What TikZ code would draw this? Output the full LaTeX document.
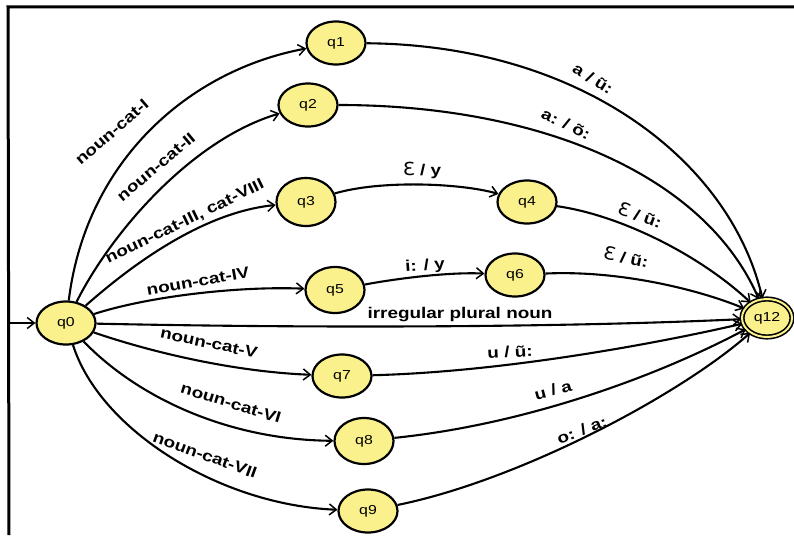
\documentclass[tikz,border=0pt]{standalone}
\usepackage{fontspec}
\usetikzlibrary{shapes.geometric,arrows.meta}
\newfontfamily\lblfamily[FakeStretch=1.22]{Liberation Sans}
\newfontfamily\epsfamily[FakeStretch=1.1]{DejaVu Sans}
\definecolor{stfill}{RGB}{250,241,140}
\newcommand{\lfont}{\lblfamily\bfseries\fontsize{15.5}{17}\selectfont}
\newcommand{\nfont}{\lblfamily\fontsize{13}{15}\selectfont}
\newcommand{\eps}{{\epsfamily\mdseries\fontsize{18}{18}\selectfont Ɛ}}
\tikzset{
  st/.style={ellipse, draw, line width=2.2pt, fill=stfill, minimum width=59pt, minimum height=43pt, inner sep=0pt, font=\nfont},
  fin/.style={st, minimum width=50pt, minimum height=38pt, double=stfill, double distance=2pt, line width=1.6pt},
  tr/.style={line width=2.1pt, -{Straight Barb[length=7pt,width=11pt,line width=1.5pt]}},
  lb/.style={font=\lfont, inner sep=1pt},
  frame/.style={line width=3pt}
}
\begin{document}
\begin{tikzpicture}[x=1pt,y=-1pt]
\useasboundingbox (0,0) rectangle (794,535);
% frame
\coordinate (fa) at (8,7);
\coordinate (fb) at (794,7);
\coordinate (fc) at (9,535);
\draw[frame] (fb) -- (fa) -- (fc);
% states
\node[st] (q0) at (66,323) {q0};
\node[st] (q1) at (336,43) {q1};
\node[st] (q2) at (308,105) {q2};
\node[st, minimum height=48pt] (q3) at (306,202) {q3};
\node[st] (q4) at (527,202) {q4};
\node[st, minimum height=46pt] (q5) at (335,290) {q5};
\node[st] (q6) at (515,275) {q6};
\node[st] (q7) at (342,376) {q7};
\node[st, minimum height=46pt] (q8) at (364,441) {q8};
\node[st] (q9) at (368,511) {q9};
\node[fin] (q12) at (767,318) {q12};
% initial
\coordinate (init) at (10,323);
\draw[tr] (init) -- (q0);
% from q0
\draw[tr] (q0) .. controls (86,160) and (190,70) .. (q1);
\draw[tr] (q0) .. controls (110,235) and (190,140) .. (q2);
\draw[tr] (q0) .. controls (135,262) and (205,212) .. (q3);
\draw[tr] (q0) .. controls (150,296) and (240,286) .. (q5);
\draw[tr] (q0) .. controls (300,328) and (550,328) .. (q12);
\draw[tr] (q0) .. controls (160,355) and (240,372) .. (q7);
\draw[tr] (q0) .. controls (135,395) and (225,440) .. (q8);
\draw[tr] (q0) .. controls (100,430) and (220,505) .. (q9);
% middle
\draw[tr] (q3) .. controls (380,180) and (460,183) .. (q4);
\draw[tr] (q5) .. controls (400,278) and (450,272) .. (q6);
% to q12
\draw[tr] (q1) .. controls (580,45) and (730,160) .. (q12);
\draw[tr] (q2) .. controls (540,105) and (705,175) .. (q12);
\draw[tr] (q4) .. controls (620,215) and (700,255) .. (q12);
\draw[tr] (q6) .. controls (620,270) and (700,290) .. (q12);
\draw[tr] (q7) .. controls (500,372) and (650,345) .. (q12);
\draw[tr] (q8) .. controls (520,425) and (650,380) .. (q12);
\draw[tr] (q9) .. controls (520,480) and (680,395) .. (q12);
% labels
\node[lb, rotate=41] (l1) at (112,132) {noun-cat-I};
\node[lb, rotate=40] (l2) at (156,167) {noun-cat-II};
\node[lb, rotate=26] (l3) at (185,222) {noun-cat-III, cat-VIII};
\node[lb, rotate=10] (l4) at (198,281) {noun-cat-IV};
\node[lb] (l5) at (460,315) {irregular plural noun};
\node[lb, rotate=-12] (l6) at (209,343) {noun-cat-V};
\node[lb, rotate=-17] (l7) at (231,403) {noun-cat-VI};
\node[lb, rotate=-20] (l8) at (205,455) {noun-cat-VII};
\node[lb, rotate=-32] (l9) at (593,79) {a / ũ:};
\node[lb, rotate=-26] (l10) at (566,124) {a: / õ:};
\node[lb] (l11) at (422,170) {\eps{} / y};
\node[lb, rotate=-20] (l12) at (640,215) {\eps{} / ũ:};
\node[lb, rotate=-12] (l13) at (626,257) {\eps{} / ũ:};
\node[lb, rotate=4] (l14) at (425,266) {i: / y};
\node[lb, rotate=3] (l15) at (510,352) {u / ũ:};
\node[lb, rotate=15] (l16) at (553,390) {u / a};
\node[lb, rotate=20] (l17) at (582,430) {o: / a:};
\end{tikzpicture}
\end{document}
